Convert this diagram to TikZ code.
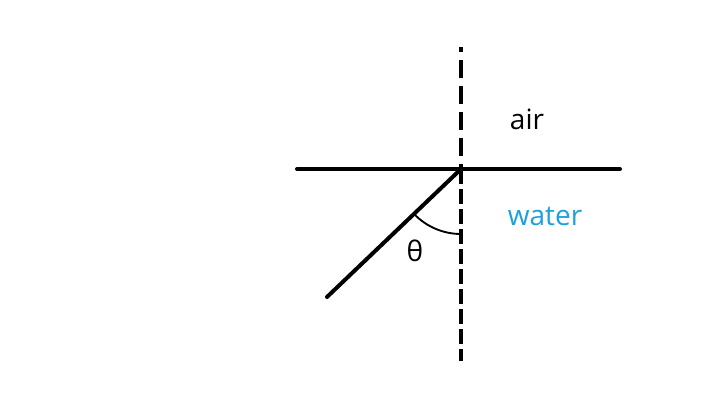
\documentclass[tikz,border=0pt]{standalone}
\usepackage{fontspec}
\setmainfont{Open Sans}
\usepackage{tikz}
\usetikzlibrary{positioning, calc}
\definecolor{WaterBlue}{HTML}{1CA0DE}

\begin{document}
\begin{tikzpicture}[
    x=0.75pt, y=0.75pt,
    font=\fontsize{21}{25}\selectfont,
    surface/.style={line width=3pt, line cap=round},
    normal/.style={line width=3pt, dash pattern=on 13.5pt off 6pt},
    anglemark/.style={line width=1.4pt}
  ]
    \useasboundingbox (0,0) rectangle (704,408);

    % Points
    \coordinate (O) at (461,239);
    \coordinate (left) at (297,239);
    \coordinate (right) at (620,239);
    \coordinate (top) at (461,361);
    \coordinate (bottom) at (461,47);
    \coordinate (ray) at (327,111);

    % Labels
    \node (air) at (527,289) {air};
    \node (water) [text=WaterBlue] at (545,192) {water};
    \node (theta) at (415,157) {θ};

    % Lines
    \draw [surface] (left) -- (right);
    \draw [normal, dash phase=9.75pt] (top) -- (O);
    \draw [line width=3pt, dash pattern=on 11pt off 4pt] (O) -- (bottom);
    \draw [surface] (O) -- (ray);
    \draw [anglemark] ($(O)+(224:65)$) arc (224:270:65);
  \end{tikzpicture}
\end{document}
